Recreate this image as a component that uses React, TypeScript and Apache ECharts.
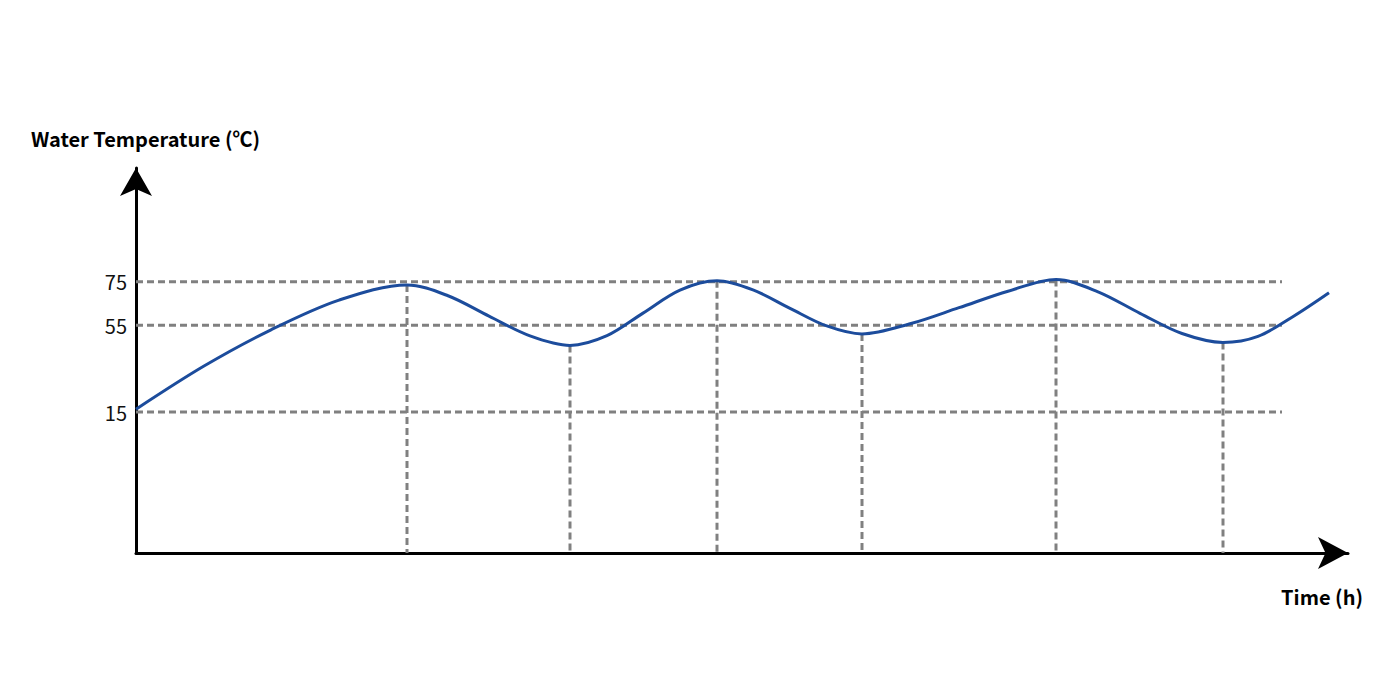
import React, { useEffect, useRef } from "react";
import * as echarts from "echarts";

// Time (h) – schematic units
const timeH = [
  0, 0.68, 1.35, 2.03, 2.71, 3.12, 3.53, 3.94, 4.34, 4.71, 5.07, 5.44, 5.81,
  6.17, 6.54, 6.9, 7.26, 7.75, 8.23, 8.72, 9.2, 9.62, 10.04, 10.46, 10.87,
  11.22, 11.58, 11.93,
];
// Water temperature (°C)
const tempC = [
  16.3, 36.2, 52.9, 66.6, 73.6, 68.6, 59.2, 50.1, 45.7, 50.2, 60.6, 71.2, 75.5,
  71.3, 62.8, 54.8, 51.0, 55.8, 63.1, 70.7, 76.1, 70.4, 60.5, 51.2, 47.1, 49.9,
  59.3, 70.0,
];
// Reference levels shown on the y axis
const levelValues = [15, 55, 75];
// Indices of the peaks and troughs that get a vertical guide
const extremaIdx = [4, 8, 12, 16, 20, 24];

const yMin = -50;
const yMax = 127.5;
const xMax = 12.12;
const guideEnd = 11.46;

export default function App() {
  const ref = useRef<HTMLDivElement>(null);

  useEffect(() => {
    if (!ref.current) return;
    const chart = echarts.init(ref.current, null, { renderer: "svg" });
    const font = "'Noto Sans CJK SC', 'Noto Sans', sans-serif";
    const dashStyle = {
      color: "#808080",
      width: 3,
      type: [7, 4] as any,
    };

    const guideSeries: any[] = [];
    levelValues.forEach((v) => {
      guideSeries.push({
        type: "line",
        data: [
          [0, v],
          [guideEnd, v],
        ],
        showSymbol: false,
        symbol: "none",
        silent: true,
        z: 1,
        lineStyle: dashStyle,
      });
    });
    extremaIdx.forEach((i) => {
      guideSeries.push({
        type: "line",
        data: [
          [timeH[i], tempC[i]],
          [timeH[i], yMin],
        ],
        showSymbol: false,
        symbol: "none",
        silent: true,
        z: 1,
        lineStyle: dashStyle,
      });
    });

    chart.setOption({
      animation: false,
      backgroundColor: "#ffffff",
      grid: { left: 136, right: 52, top: 168, bottom: 147 },
      xAxis: {
        type: "value",
        min: 0,
        max: xMax,
        name: "Time (h)",
        nameLocation: "end",
        nameGap: 15,
        nameTextStyle: {
          fontFamily: font,
          fontSize: 20,
          fontWeight: "bold",
          color: "#000",
          align: "right",
          verticalAlign: "top",
          padding: [34, 0, 0, 0],
        },
        axisLine: {
          onZero: false,
          symbol: ["none", "arrow"],
          symbolSize: [24, 30],
          lineStyle: { color: "#000", width: 3 },
        },
        axisTick: { show: false },
        axisLabel: { show: false },
        splitLine: { show: false },
      },
      yAxis: {
        type: "value",
        min: yMin,
        max: yMax,
        name: "Water Temperature (℃)",
        nameLocation: "end",
        nameGap: 30,
        nameTextStyle: {
          fontFamily: font,
          fontSize: 20,
          fontWeight: "bold",
          color: "#000",
          align: "center",
          verticalAlign: "middle",
          padding: [0, 0, 0, 19],
        },
        axisLine: {
          show: true,
          onZero: false,
          symbol: ["none", "arrow"],
          symbolSize: [24, 28],
          lineStyle: { color: "#000", width: 3 },
        },
        axisTick: { show: false },
        axisLabel: {
          customValues: levelValues,
          margin: 9,
          fontFamily: font,
          fontSize: 20,
          color: "#111",
        },
        splitLine: { show: false },
      },
      series: [
        ...guideSeries,
        {
          type: "line",
          data: timeH.map((t, i) => [t, tempC[i]]),
          smooth: 0.33,
          showSymbol: false,
          symbol: "none",
          z: 3,
          lineStyle: { color: "#1c4c9c", width: 3 },
        },
      ],
    });

    return () => chart.dispose();
  }, []);

  return (
    <div
      ref={ref}
      style={{ position: "fixed", left: 0, top: 0, width: 1400, height: 700 }}
    />
  );
}
